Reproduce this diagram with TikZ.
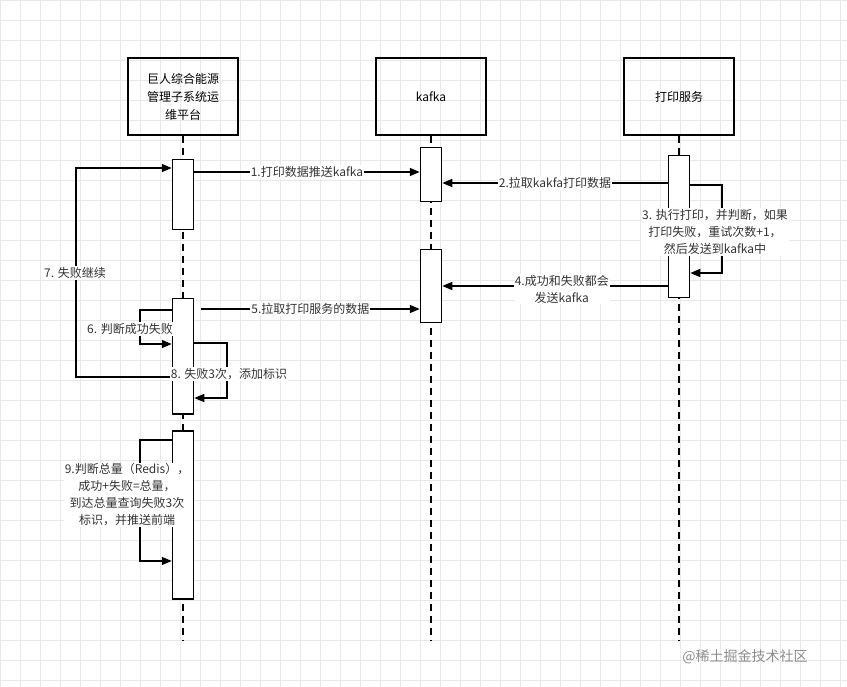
\documentclass[tikz,border=0pt]{standalone}
\usepackage{fontspec}
\setmainfont{Noto Sans CJK SC}
\usetikzlibrary{arrows.meta}
\tikzset{
    actor/.style={draw, line width=1.5pt, minimum width=110pt, minimum height=77pt, align=center, font=\fontsize{12}{18}\selectfont},
    act/.style={draw, line width=1.5pt, fill=white, minimum width=21pt, anchor=north},
    msg/.style={line width=1.5pt, -{Triangle[length=10pt,width=8pt]}},
    life/.style={line width=1.5pt, dash pattern=on 7pt off 5pt},
    lbl/.style={fill=white, inner sep=1pt, align=center, font=\fontsize{12}{17}\selectfont, text=black!80}
}
\begin{document}
\begin{tikzpicture}[x=1pt, y=-1pt]
        \useasboundingbox (0,0) rectangle (847,687);
        %grid
        \foreach \x in {0,20,...,840} \draw[black!9] (\x,0) -- (\x,687);
        \foreach \y in {0,20,...,680} \draw[black!9] (0,\y) -- (847,\y);
        
        %actors
        \node[actor](sys) at (183,96.5){巨人综合能源\\管理子系统运\\维平台};
        \node[actor](kafka) at (431,96.5){kafka};
        \node[actor](print) at (679,96.5){打印服务};
        \coordinate (sysEnd) at (183,640);
        \coordinate (kafkaEnd) at (431,640);
        \coordinate (printEnd) at (679,640);
        \draw[life] (sys) -- (sysEnd);
        \draw[life] (kafka) -- (kafkaEnd);
        \draw[life] (print) -- (printEnd);
        
        %activations
        \node[act, minimum height=70pt](s1) at (183,159){};
        \node[act, minimum height=115pt](s2) at (183,298){};
        \node[act, minimum height=168pt](s3) at (183,430){};
        \node[act, minimum height=54pt](k1) at (431,147){};
        \node[act, minimum height=73pt](k2) at (431,249){};
        \node[act, minimum height=142pt](p1) at (679,155){};
        
        %messages
        \draw[msg] (s1.east |- 0,172) -- node[lbl]{1.打印数据推送kafka} (k1.west |- 0,172);
        \draw[msg] (p1.west |- 0,183) -- node[lbl]{2.拉取kakfa打印数据} (k1.east |- 0,183);
        \draw[msg] (p1.east |- 0,185) -| (722,273) -- (p1.east |- 0,273);
        \node[lbl](l3) at (715,232){3. 执行打印，并判断，如果\\打印失败，重试次数+1，\\然后发送到kafka中};
        \draw[msg] (p1.west |- 0,286) -- node[lbl, pos=0.47, yshift=-3pt]{4.成功和失败都会\\发送kafka} (k2.east |- 0,286);
        \draw[msg] (201,309) -- node[lbl]{5.拉取打印服务的数据} (k2.west |- 0,309);
        \draw[msg] (s2.west |- 0,310) -| (140,344) -- (s2.west |- 0,344);
        \draw[msg] (s2.west |- 0,377) -| (76,168) -- (s1.west |- 0,168);
        \draw[msg] (s2.east |- 0,343) -| (227,398) -- (s2.east |- 0,398);
        \draw[msg] (s3.west |- 0,440) -| (140,561) -- (s3.west |- 0,561);
        \node[lbl](l6) at (130,329){6. 判断成功失败};
        \node[lbl](l7) at (75,273){7. 失败继续};
        \node[lbl](l8) at (229,374){8. 失败3次，添加标识};
        \node[lbl](l9) at (127,495){9.判断总量（Redis），\\成功+失败=总量，\\到达总量查询失败3次\\标识，并推送前端};
        
        \node[font=\fontsize{14}{16}\selectfont, text=black!45](mark) at (745,657){@稀土掘金技术社区};
\end{tikzpicture}
\end{document}
